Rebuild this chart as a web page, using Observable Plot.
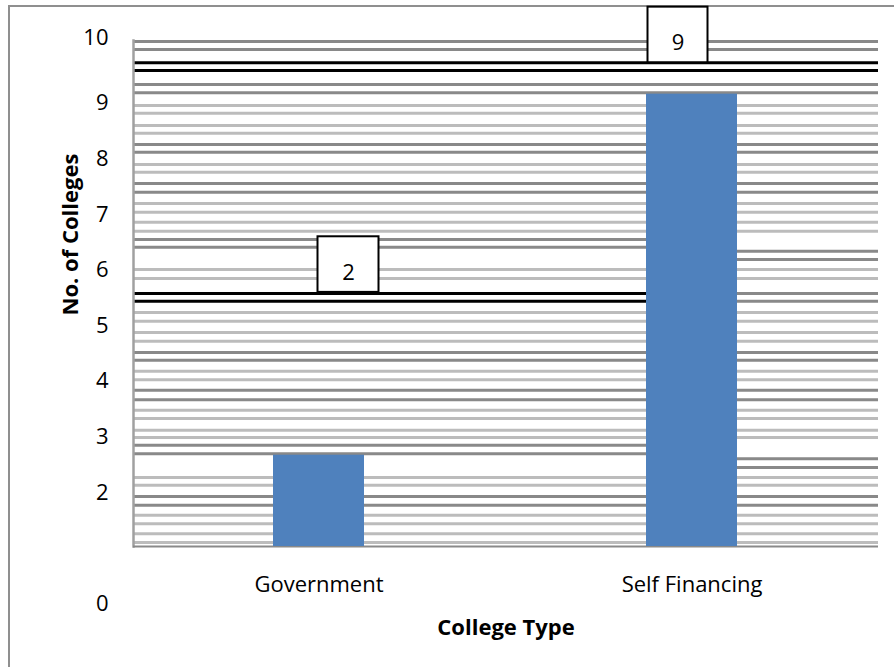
<!DOCTYPE html>
<html><head><meta charset="utf-8">
<script src="https://cdn.jsdelivr.net/npm/d3@7"></script>
<script src="https://cdn.jsdelivr.net/npm/@observablehq/plot@0.6"></script>
<style>
body{margin:0;background:#fff;overflow:hidden;}
#wrap{position:relative;width:894px;height:667px;overflow:hidden;}
#border{position:absolute;left:8px;top:5px;width:1000px;height:1000px;border:2px solid #8f8f8f;}
#wrap svg{position:absolute;left:0;top:0;}
</style></head><body>
<div id="wrap"><div id="border"></div></div>
<script>
// ---- data ----
const categories = ["Government", "Self Financing"];
const collegeCounts = [2, 9];
const labelLevels = [5.6, 9.73];           // level (axis units) of each data-label box base
const yTicks = [0, 2, 3, 4, 5, 6, 7, 8, 9];
const yTopTick = [10];
const axisDomain = [1.03, 10.13];           // visible range of the printed axis
const barDomain = [0.23, 10.04];            // visible range used by the bars
// striped gridlines (axis units)
const gridLight = [8.96, 8.82, 8.60, 8.46, 7.90, 7.76, 7.20, 7.04, 6.86, 6.70, 6.01, 5.85, 5.24, 5.08,
  4.88, 4.72, 4.18, 4.03, 3.48, 3.33, 3.12, 2.99, 2.27, 2.13, 1.59, 1.44, 1.26, 1.10];
const gridDark = [10.11, 9.97, 9.34, 9.19, 8.26, 8.12, 7.56, 7.40, 4.52, 4.38, 3.84, 3.67, 1.93, 1.77];
const gridBlack = [9.73, 9.59];
const gridDarkLeft = [6.55, 6.41, 2.85, 2.70];
const gridBlackLeft = [5.58, 5.44];
const gridDarkRight = [6.34, 6.19, 5.58, 5.44, 2.61, 2.45];

const rows = categories.map((c, i) => ({type: c, value: collegeCounts[i], level: labelLevels[i]}));

const layout = {
  width: 894, height: 667,
  marginLeft: 133, marginRight: 16, marginTop: 40, marginBottom: 121,
  style: {fontFamily: "'Open Sans', sans-serif", fontSize: "22px", color: "black", background: "transparent"}
};
const xScale = {domain: categories, paddingInner: 0.756, paddingOuter: 0.3765};
const LIGHT = "#bcbcbc", DARK = "#898989";
// left-hand stripes stop, right-hand stripes start, behind the Self Financing bar
const leftPart = {insetRight: 200}, rightPart = {insetLeft: 545};

const main = Plot.plot({
  ...layout,
  x: {...xScale},
  y: {domain: axisDomain},
  marks: [
    Plot.ruleY(gridLight, {y: d => d, stroke: LIGHT, strokeWidth: 3}),
    Plot.ruleY(gridDark, {y: d => d, stroke: DARK, strokeWidth: 3}),
    Plot.ruleY(gridBlack, {y: d => d, stroke: "black", strokeWidth: 3}),
    Plot.ruleY(gridDarkLeft, {y: d => d, ...leftPart, stroke: DARK, strokeWidth: 3}),
    Plot.ruleY(gridBlackLeft, {y: d => d, ...leftPart, stroke: "black", strokeWidth: 3}),
    Plot.ruleY(gridDarkRight, {y: d => d, ...rightPart, stroke: DARK, strokeWidth: 3}),
    Plot.frame({anchor: "left", stroke: "#a0a0a0", strokeWidth: 2.5}),
    Plot.ruleY([axisDomain[0]], {y: d => d, stroke: DARK, strokeWidth: 2}),
    Plot.barY(rows.filter(d => d.type === categories[0]), {x: "type", y1: "level", y2: d => d.level + 1,
      fill: "white", stroke: "black", strokeWidth: 2, insetLeft: 44.5, insetRight: -14.5}),
    Plot.barY(rows.filter(d => d.type === categories[1]), {x: "type", y1: "level", y2: d => d.level + 1,
      fill: "white", stroke: "black", strokeWidth: 2, insetLeft: 1.5, insetRight: 29.5}),
    Plot.text(rows.filter(d => d.type === categories[0]), {x: "type", y: d => d.level + 0.35, text: d => String(d.value), dx: 29.5}),
    Plot.text(rows.filter(d => d.type === categories[1]), {x: "type", y: d => d.level + 0.35, text: d => String(d.value), dx: -14}),
    Plot.axisY({ticks: yTicks, tickSize: 0, tickPadding: 25, label: null}),
    Plot.axisY({ticks: yTopTick, tickSize: 0, tickPadding: 25, dy: -10, label: null}),
    Plot.axisX({tickSize: 0, tickPadding: 30, label: null}),
    Plot.text(["College Type"], {text: d => d, frameAnchor: "bottom", lineAnchor: "middle", textAnchor: "middle", dy: 81, fontWeight: "bold"}),
    Plot.text(["No. of Colleges"], {text: d => d, frameAnchor: "left", textAnchor: "middle", lineAnchor: "middle", dx: -63, dy: -59, rotate: -90, fontWeight: "bold"})
  ]
});

const bars = Plot.plot({
  ...layout,
  x: {...xScale, axis: null},
  y: {domain: barDomain, axis: null},
  marks: [
    Plot.barY(rows, {x: "type", y: "value", fill: "#4f81bd", clip: true})
  ]
});

const wrap = document.getElementById("wrap");
wrap.appendChild(main);
wrap.appendChild(bars);
</script>
</body></html>
